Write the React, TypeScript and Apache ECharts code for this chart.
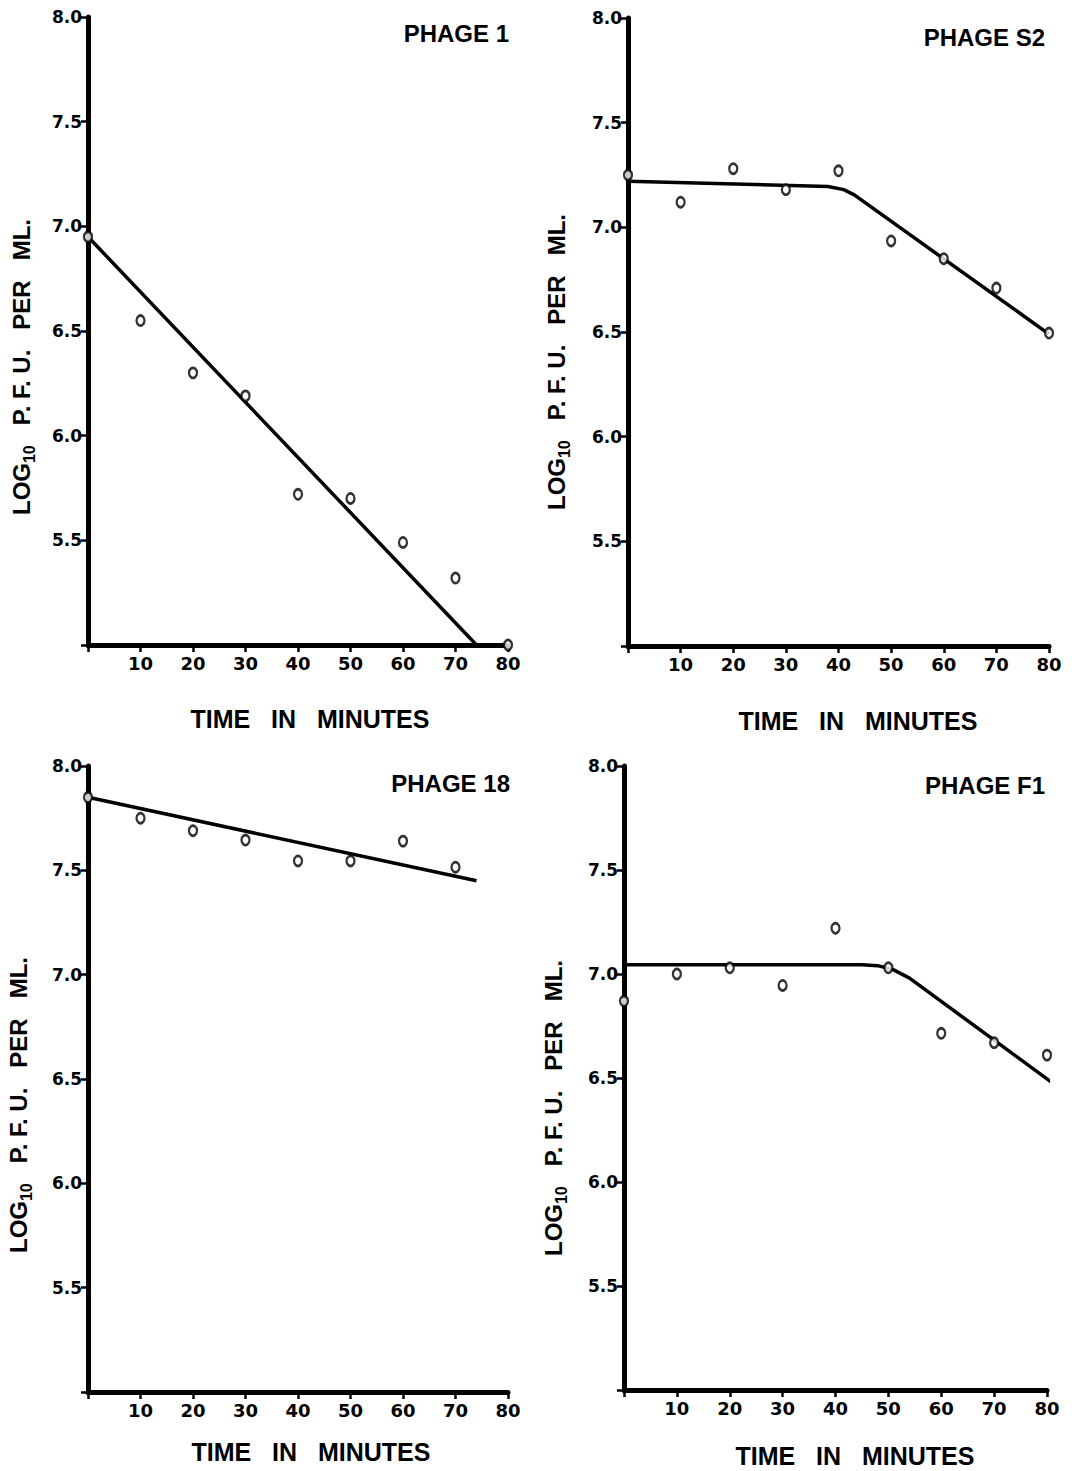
import React, { useEffect, useRef } from "react";
import * as echarts from "echarts";

// ---- data ----
const minutes = [0, 10, 20, 30, 40, 50, 60, 70, 80];
const minutes18 = [0, 10, 20, 30, 40, 50, 60, 70];

const phage1Obs = [6.95, 6.55, 6.3, 6.19, 5.72, 5.7, 5.49, 5.32, 5.0];
const phage1FitX = [0, 74];
const phage1FitY = [6.95, 5.0];

const phageS2Obs = [7.25, 7.12, 7.28, 7.18, 7.27, 6.935, 6.85, 6.71, 6.495];
const phageS2FitX = [0, 38, 41, 43, 80];
const phageS2FitY = [7.22, 7.195, 7.18, 7.155, 6.49];

const phage18Obs = [7.85, 7.75, 7.69, 7.645, 7.545, 7.545, 7.64, 7.515];
const phage18FitX = [0, 74];
const phage18FitY = [7.85, 7.45];

const phageF1Obs = [6.87, 7.0, 7.03, 6.945, 7.22, 7.03, 6.715, 6.67, 6.61];
const phageF1FitX = [0, 45, 48, 51, 54, 83];
const phageF1FitY = [7.045, 7.045, 7.04, 7.02, 6.98, 6.44];

const titles = ["PHAGE 1", "PHAGE S2", "PHAGE 18", "PHAGE F1"];
const xTitle = "TIME   IN   MINUTES";

const FONT = '"Liberation Sans", Arial, sans-serif';
const TICK_FONT = '"DejaVu Sans", sans-serif';

const zip = (xs: number[], ys: number[]) => xs.map((x, i) => [x, ys[i]]);

const panels = [
  {
    grid: { left: 88, top: 17, width: 420, height: 628 },
    obs: zip(minutes, phage1Obs),
    fit: zip(phage1FitX, phage1FitY),
    title: { x: 509, y: 33 },
    xName: { x: 310, y: 719 },
    yName: { x: 21, y: 367 },
  },
  {
    grid: { left: 628, top: 18, width: 421, height: 628 },
    obs: zip(minutes, phageS2Obs),
    fit: zip(phageS2FitX, phageS2FitY),
    title: { x: 1045, y: 37 },
    xName: { x: 858, y: 721 },
    yName: { x: 556, y: 362 },
  },
  {
    grid: { left: 88, top: 766, width: 420, height: 626 },
    obs: zip(minutes18, phage18Obs),
    fit: zip(phage18FitX, phage18FitY),
    title: { x: 510, y: 783 },
    xName: { x: 311, y: 1452 },
    yName: { x: 18, y: 1105 },
  },
  {
    grid: { left: 624, top: 766, width: 423, height: 624 },
    obs: zip(minutes, phageF1Obs),
    fit: zip(phageF1FitX, phageF1FitY),
    title: { x: 1045, y: 785 },
    xName: { x: 855, y: 1456 },
    yName: { x: 553, y: 1108 },
  },
];

export default function App() {
  const ref = useRef<HTMLDivElement>(null);

  useEffect(() => {
    if (!ref.current) return;
    const chart = echarts.init(ref.current, undefined, { renderer: "svg" });

    const grids = panels.map((p) => ({ ...p.grid, containLabel: false }));
    const xAxes = panels.map((_, i) => ({
      type: "value",
      gridIndex: i,
      min: 0,
      max: 80,
      interval: 10,
      axisLine: { show: true, onZero: false, lineStyle: { color: "#000", width: 5, cap: "round" } },
      axisTick: { show: true, length: 7, lineStyle: { color: "#000", width: 2.5 } },
      splitLine: { show: false },
      axisLabel: {
        show: true,
        margin: 9,
        color: "#000",
        fontFamily: TICK_FONT,
        fontWeight: "bold",
        fontSize: 18,
        formatter: (v: number) => (v === 0 ? "" : String(v)),
      },
    }));
    const yAxes = panels.map((_, i) => ({
      type: "value",
      gridIndex: i,
      min: 5,
      max: 8,
      interval: 0.5,
      axisLine: { show: true, onZero: false, lineStyle: { color: "#000", width: 5, cap: "round" } },
      axisTick: { show: true, length: 7, lineStyle: { color: "#000", width: 2.5 } },
      splitLine: { show: false },
      axisLabel: {
        show: true,
        margin: 6,
        color: "#000",
        fontFamily: TICK_FONT,
        fontWeight: "bold",
        fontSize: 17,
        formatter: (v: number) => (v === 5 ? "" : v.toFixed(1)),
      },
    }));

    const series: any[] = [];
    panels.forEach((p, i) => {
      series.push({
        type: "line",
        xAxisIndex: i,
        yAxisIndex: i,
        data: p.fit,
        symbol: "none",
        clip: false,
        lineStyle: { color: "#000", width: 3.5 },
        z: 3,
      });
      series.push({
        type: "scatter",
        xAxisIndex: i,
        yAxisIndex: i,
        data: p.obs,
        symbol: "circle",
        symbolSize: [8, 10],
        clip: false,
        itemStyle: { color: "#fff", borderColor: "#000", borderWidth: 2.5 },
        z: 5,
      });
    });

    const graphic: any[] = [];
    panels.forEach((p, i) => {
      graphic.push({
        type: "text",
        x: p.title.x,
        y: p.title.y,
        style: {
          text: titles[i],
          fill: "#000",
          fontFamily: FONT,
          fontWeight: "bold",
          fontSize: 24,
          align: "right",
          verticalAlign: "middle",
        },
      });
      graphic.push({
        type: "text",
        x: p.xName.x,
        y: p.xName.y,
        style: {
          text: xTitle,
          fill: "#000",
          fontFamily: FONT,
          fontWeight: "bold",
          fontSize: 25,
          align: "center",
          verticalAlign: "middle",
        },
      });
      graphic.push({
        type: "text",
        x: p.yName.x,
        y: p.yName.y,
        rotation: Math.PI / 2,
        style: {
          text: "{m|LOG}{s|10}{m|   P. F. U.   PER   ML.}",
          fill: "#000",
          align: "center",
          verticalAlign: "middle",
          rich: {
            m: {
              fontFamily: FONT,
              fontWeight: "bold",
              fontSize: 24,
              lineHeight: 32,
              fill: "#000",
              verticalAlign: "middle",
            },
            s: {
              fontFamily: FONT,
              fontWeight: "bold",
              fontSize: 16,
              lineHeight: 18,
              fill: "#000",
              verticalAlign: "bottom",
            },
          },
        },
      });
    });

    chart.setOption({
      animation: false,
      backgroundColor: "#fff",
      grid: grids,
      xAxis: xAxes,
      yAxis: yAxes,
      series,
      graphic,
    });

    return () => chart.dispose();
  }, []);

  return (
    <div
      ref={ref}
      style={{ position: "absolute", left: 0, top: 0, width: 1072, height: 1471 }}
    />
  );
}
